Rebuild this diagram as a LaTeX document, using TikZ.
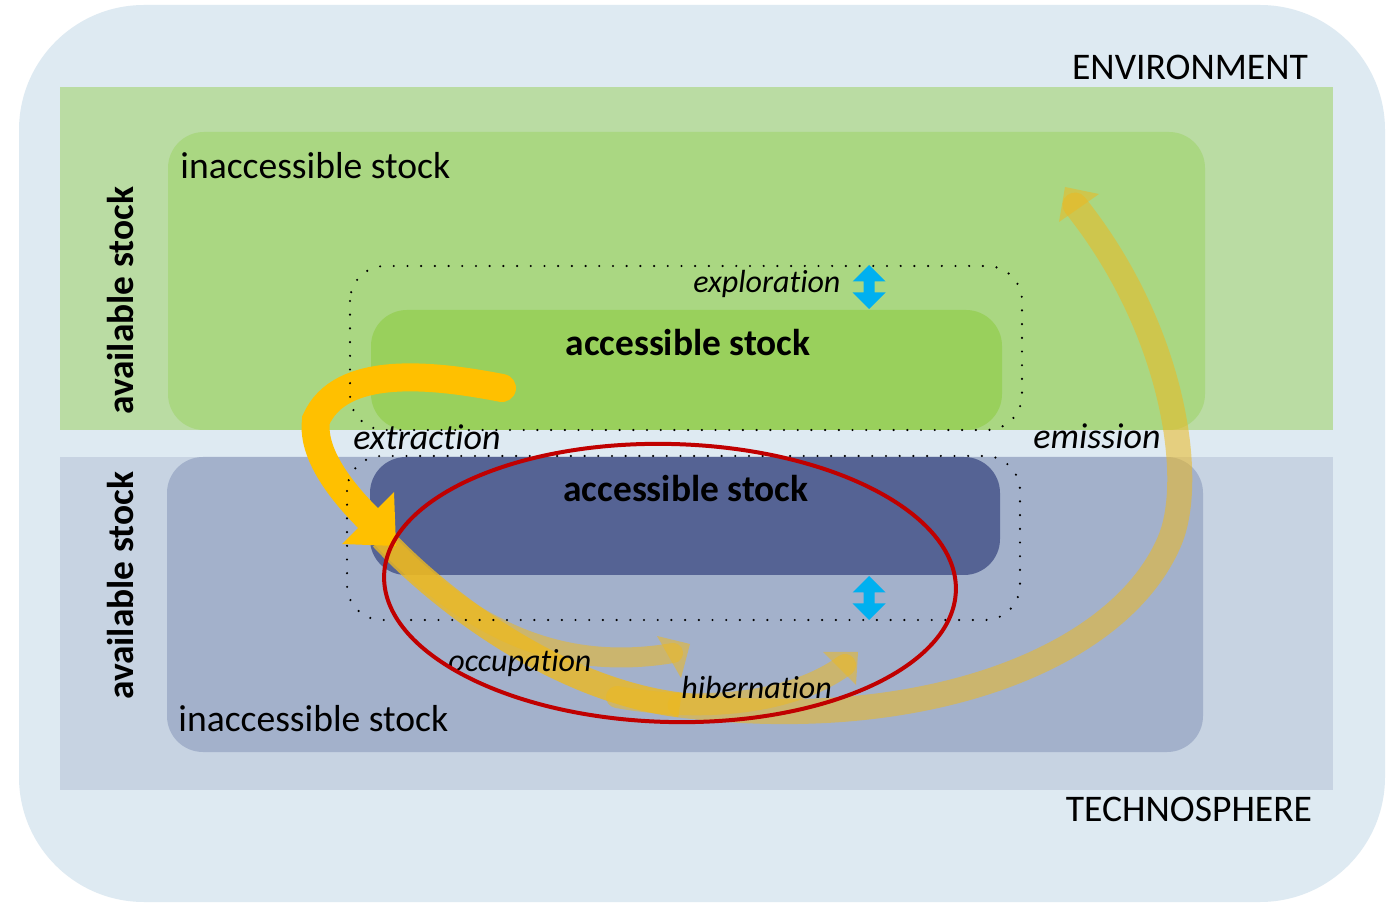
\documentclass[tikz,border=0pt]{standalone}
\usepackage{fontspec}
\setmainfont{Carlito}[Ligatures={NoCommon,NoContextual}]
\definecolor{envbg}{RGB}{222,234,242}
\definecolor{envband}{RGB}{186,220,163}
\definecolor{greeninacc}{RGB}{170,215,130}
\definecolor{greenacc}{RGB}{153,208,92}
\definecolor{techband}{RGB}{199,211,226}
\definecolor{blueinacc}{RGB}{163,177,203}
\definecolor{blueacc}{RGB}{85,99,148}
\definecolor{flowgold}{RGB}{255,192,0}
\definecolor{flowpale}{RGB}{236,185,34}
\definecolor{cycred}{RGB}{192,0,0}
\definecolor{shiftblue}{RGB}{0,176,240}
\begin{document}
\begin{tikzpicture}[x=0.5pt,y=-0.5pt,
  txt/.style={inner sep=0pt, font=\fontsize{18.8pt}{22pt}\selectfont},
  boldtxt/.style={inner sep=0pt, font=\fontsize{18.7pt}{22pt}\selectfont\bfseries},
  flowtxt/.style={inner sep=0pt, font=\fontsize{16pt}{19pt}\selectfont\itshape},
  bigflowtxt/.style={inner sep=0pt, font=\fontsize{18pt}{21pt}\selectfont\itshape},
  scopeline/.style={draw=black, line width=1.2pt, line cap=round,
    dash pattern=on 0pt off 6.85pt, rounded corners=17.5pt},
  flowsoft/.style={draw=flowpale, draw opacity=0.55},
  headsoft/.style={fill=flowpale, fill opacity=0.55},
  updown/.pic={
    \fill[shiftblue] (0,-22) -- (16.5,-5.5) -- (5.5,-5.5) -- (5.5,5.5)
      -- (16.5,5.5) -- (0,22) -- (-16.5,5.5) -- (-5.5,5.5) -- (-5.5,-5.5)
      -- (-16.5,-5.5) -- cycle;
  }]
\useasboundingbox (0,0) rectangle (1388,903);
\fill[white] (0,0) rectangle (1388,903);

% spheres and stocks
\fill[envbg, rounded corners=62.5pt] (19,5) rectangle (1385,902);
\fill[envband] (60,87) rectangle (1333,430);
\fill[techband] (60,457) rectangle (1333,790);
\fill[greeninacc, rounded corners=18pt] (168,132) rectangle (1205,430);
\fill[greenacc, rounded corners=18pt] (371,310) rectangle (1002,430);
\fill[blueinacc, rounded corners=18pt] (167,457) rectangle (1203,752);
\fill[blueacc, rounded corners=18pt] (370,457) rectangle (1000,575);

% flow end points
\coordinate (ex-start) at (502,388);
\coordinate (ex-bend)  at (316,420);
\coordinate (ex-end)   at (368,518);
\coordinate (ex-tip)   at (396,546);
\coordinate (ex-wa)    at (394,492);
\coordinate (ex-wb)    at (342,544);
\coordinate (em-start) at (382,538);
\coordinate (em-low)   at (680,705);
\coordinate (em-rise)  at (1170,540);
\coordinate (em-end)   at (1075,205);
\coordinate (em-tip)   at (1065,187);
\coordinate (em-wa)    at (1099,194);
\coordinate (em-wb)    at (1059,222);
\coordinate (oc-end)   at (673,653);
\coordinate (oc-tip)   at (690,644);
\coordinate (oc-wa)    at (657,636);
\coordinate (oc-wb)    at (681,678);
\coordinate (hb-start) at (617,697);
\coordinate (hb-end)   at (845,665);
\coordinate (hb-tip)   at (858,652);
\coordinate (hb-wa)    at (823,652);
\coordinate (hb-wb)    at (856,685);

% emission
\draw[flowsoft, draw opacity=0.8, line width=12.5pt, line cap=butt]
  (em-start) .. controls (445,605) and (560,690) .. (em-low);
\draw[flowsoft, line width=12.5pt, line cap=round]
  (em-low) .. controls (920,735) and (1120,660) .. (em-rise)
  .. controls (1195,480) and (1175,330) .. (em-end);
\fill[headsoft] (em-wa) -- (em-tip) -- (em-wb) -- cycle;

% occupation
\draw[flowsoft, line width=10pt, line cap=round]
  (em-start) .. controls (470,630) and (560,672) .. (oc-end);
\fill[headsoft] (oc-wa) -- (oc-tip) -- (oc-wb) -- cycle;

% hibernation
\draw[flowsoft, line width=11pt, line cap=round]
  (hb-start) .. controls (700,712) and (790,705) .. (hb-end);
\fill[headsoft] (hb-wa) -- (hb-tip) -- (hb-wb) -- cycle;

% extraction
\draw[flowgold, line width=14pt, line cap=round]
  (ex-start) .. controls (430,374) and (340,365) .. (ex-bend)
  .. controls (312,450) and (335,485) .. (ex-end);
\fill[flowgold] (ex-wa) -- (ex-tip) -- (ex-wb) -- cycle;

% accessible boundaries
\draw[scopeline] (350,266) rectangle (1022,430);
\draw[scopeline] (347,456) rectangle (1020,620);

% texts
\node[txt, anchor=base] (env) at (1190,80) {ENVIRONMENT};
\node[txt, anchor=base] (tech) at (1189,821) {TECHNOSPHERE};
\node[txt, anchor=base west] (inacc-env) at (180,179) {inaccessible stock};
\node[txt, anchor=base west] (inacc-tech) at (178,732) {inaccessible stock};
\node[boldtxt, anchor=base] (acc-env) at (688,356) {accessible stock};
\node[boldtxt, anchor=base] (acc-tech) at (686,502) {accessible stock};
\node[boldtxt, anchor=base, rotate=90] (avail-env) at (133,301) {available stock};
\node[boldtxt, anchor=base, rotate=90] (avail-tech) at (133,586) {available stock};
\node[flowtxt, anchor=base west] (explo) at (693,293) {exploration};
\node[bigflowtxt, anchor=base west] (extr) at (353,450) {extraction};
\node[bigflowtxt, anchor=base west] (emis) at (1033,449) {emission};
\node[flowtxt, anchor=base west] (occu) at (448,671) {occupation};
\node[flowtxt, anchor=base west] (hibe) at (681,698) {hibernation};

% in-use cycle
\draw[cycred, line width=2pt, rotate around={-1.5:(670,583)}]
  (670,583) ellipse [x radius=143pt, y radius=69.5pt];

% exploration shifts
\pic (shift-env) at (869,287) {updown};
\pic (shift-tech) at (869,598) {updown};
\end{tikzpicture}
\end{document}
